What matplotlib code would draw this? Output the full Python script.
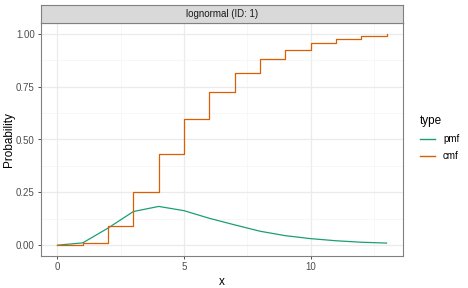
import matplotlib
matplotlib.use('Agg')
import matplotlib.pyplot as plt
from matplotlib.lines import Line2D

plt.rcParams['font.family'] = ['Liberation Sans', 'DejaVu Sans']

# data
x_vals = list(range(14))
pmf = [0.001, 0.012, 0.082, 0.160, 0.184, 0.164, 0.128, 0.097, 0.067, 0.046,
       0.032, 0.022, 0.015, 0.011]
cmf = [0.000, 0.012, 0.093, 0.250, 0.432, 0.595, 0.722, 0.815, 0.880, 0.924,
       0.956, 0.976, 0.990, 1.000]
series_names = ["pmf", "cmf"]
series_colors = {"pmf": "#1B9E77", "cmf": "#D95F02"}
strip_title = "lognormal (ID: 1)"

fig = plt.figure(figsize=(4.68, 2.88), dpi=100)
ax = fig.add_axes([41/468, 1 - 256/288, 362/468, 233/288])

ax.set_xlim(-0.65, 13.65)
ax.set_ylim(-0.05, 1.05)

ax.set_xticks([0, 5, 10])
ax.set_xticks([2.5, 7.5, 12.5], minor=True)
ax.set_yticks([0, 0.25, 0.5, 0.75, 1.0])
ax.set_yticks([0.125, 0.375, 0.625, 0.875], minor=True)
ax.set_yticklabels(["0.00", "0.25", "0.50", "0.75", "1.00"])
ax.grid(which='major', color='#EBEBEB', linewidth=0.9)
ax.grid(which='minor', color='#F4F4F4', linewidth=0.5)
ax.set_axisbelow(True)

ax.tick_params(which='major', length=2.5, width=0.6, color='#333333',
               labelsize=7, labelcolor='#4D4D4D', pad=2)
ax.tick_params(which='minor', length=0)
for s in ax.spines.values():
    s.set_color('#808080')
    s.set_linewidth(0.8)

ax.plot(x_vals, pmf, color=series_colors["pmf"], linewidth=0.9)
ax.step(x_vals, cmf, where='post', color=series_colors["cmf"], linewidth=0.9)

ax.set_xlabel("x", fontsize=8.5, labelpad=3)
ax.set_ylabel("Probability", fontsize=8.5, labelpad=0.5)

# facet strip
strip = fig.add_axes([41/468, 1 - 23/288, 362/468, 18/288])
strip.set_xticks([])
strip.set_yticks([])
strip.set_facecolor('#D9D9D9')
for s in strip.spines.values():
    s.set_color('#808080')
    s.set_linewidth(0.8)
strip.text(0.5, 0.5, strip_title, ha='center', va='center', fontsize=7,
           color='#1A1A1A', transform=strip.transAxes)

# legend
handles = [Line2D([0], [0], color=series_colors[n], linewidth=1.0) for n in series_names]
fig.legend(handles, series_names, title="type", loc='upper left',
           bbox_to_anchor=(411/468, 1 - 106/288), frameon=False,
           fontsize=7, title_fontsize=8.5, handlelength=1.6,
           labelspacing=0.75, alignment='left')

fig.savefig("out.png", dpi=100)
